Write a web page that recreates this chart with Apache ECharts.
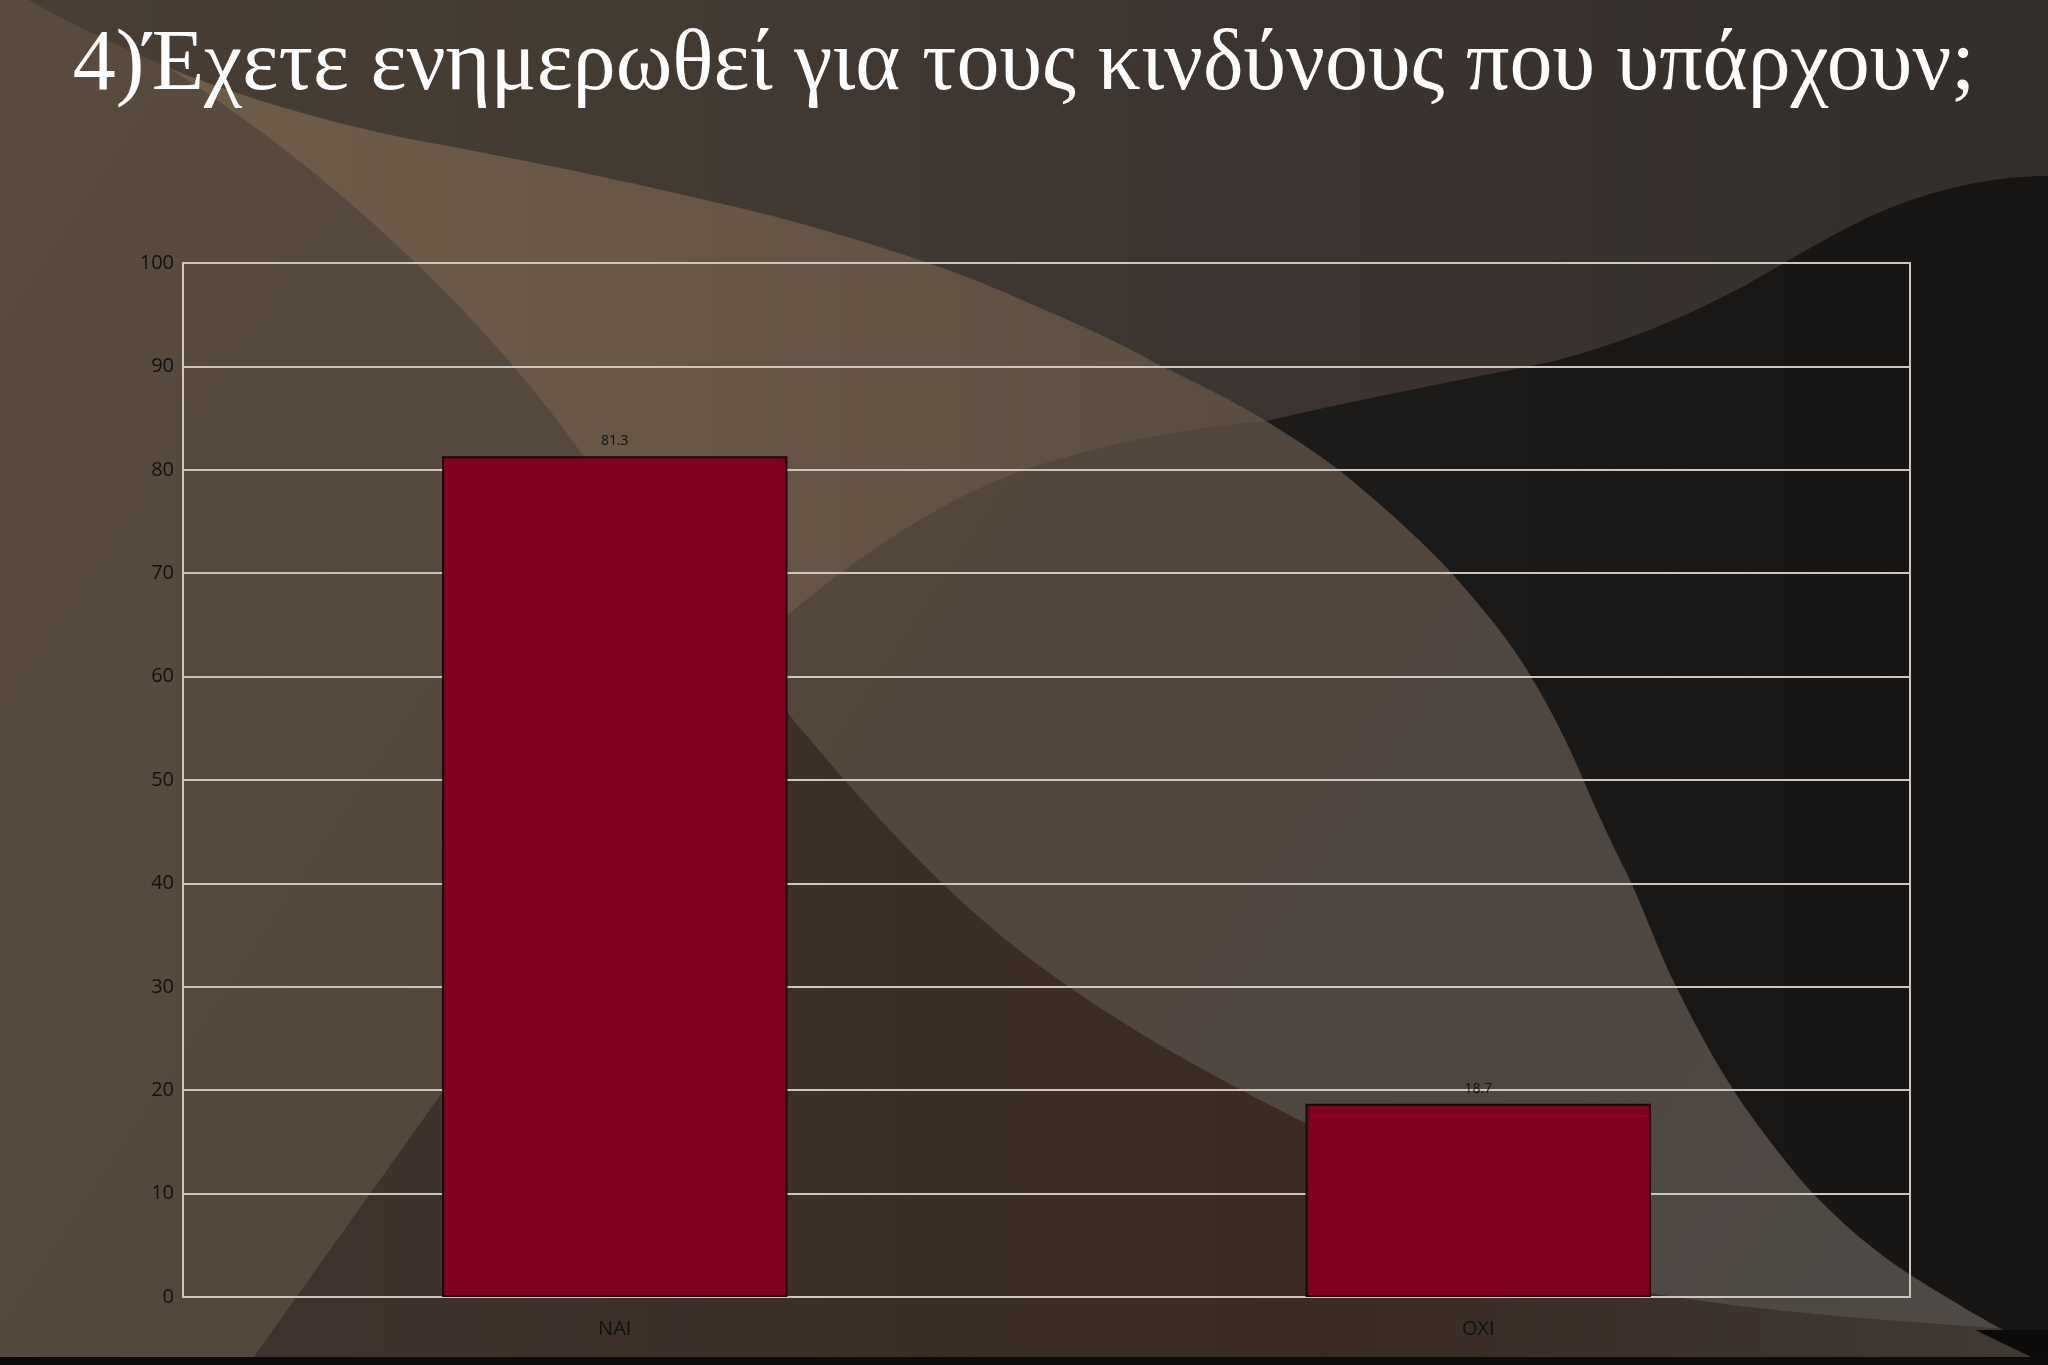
<!DOCTYPE html>
<html>
<head>
<meta charset="utf-8">
<style>
html,body{margin:0;padding:0;background:#3d3530;}
#chart{width:2048px;height:1365px;}
</style>
<script src="https://cdn.jsdelivr.net/npm/echarts@6/dist/echarts.min.js"></script>
</head>
<body>
<div id="chart"></div>
<script>
var titleText = '4)Έχετε ενημερωθεί για τους κινδύνους που υπάρχουν;';
var categories = ['NAI', 'OXI'];
var values = [81.3, 18.7];
var yTicks = [0, 10, 20, 30, 40, 50, 60, 70, 80, 90, 100];

var chart = echarts.init(document.getElementById('chart'));
var LG = echarts.graphic.LinearGradient;

// convert a simple path string (M, L, C, Z) into polygon points for background shapes
function pathToPoints(d) {
  var tokens = d.replace(/([MLCZ])/g, ' $1 ').replace(/,/g, ' ').trim().split(/\s+/);
  var pts = [], i = 0, cmd = null, cur = [0, 0];
  function num() { return parseFloat(tokens[i++]); }
  while (i < tokens.length) {
    var t = tokens[i];
    if (/^[MLCZ]$/.test(t)) { cmd = t; i++; if (cmd === 'Z') continue; }
    if (cmd === 'M' || cmd === 'L') {
      cur = [num(), num()]; pts.push(cur.slice());
    } else if (cmd === 'C') {
      var x1 = num(), y1 = num(), x2 = num(), y2 = num(), x3 = num(), y3 = num();
      var x0 = cur[0], y0 = cur[1];
      for (var s = 1; s <= 24; s++) {
        var u = s / 24, v = 1 - u;
        pts.push([
          v*v*v*x0 + 3*v*v*u*x1 + 3*v*u*u*x2 + u*u*u*x3,
          v*v*v*y0 + 3*v*v*u*y1 + 3*v*u*u*y2 + u*u*u*y3
        ]);
      }
      cur = [x3, y3];
    } else { i++; }
  }
  return pts;
}

function bgShape(d, fill, z) {
  return { type: 'polygon', z: z, silent: true, shape: { points: pathToPoints(d) }, style: { fill: fill } };
}

var swooshEdge = 'C1300,442 1330,462 1350,479 C1390,512 1420,540 1448,569 C1480,605 1510,640 1533,680 C1560,725 1575,760 1592,800 C1610,840 1620,860 1631,882 C1650,925 1660,955 1677,988 C1700,1035 1720,1070 1742,1103 C1765,1135 1785,1162 1808,1188 C1840,1222 1870,1248 1906,1272 C1950,1300 2000,1330 2048,1353';
var swooshEdgeRev = 'C2000,1330 1950,1300 1906,1272 C1870,1248 1840,1222 1808,1188 C1785,1162 1765,1135 1742,1103 C1720,1070 1700,1035 1677,988 C1660,955 1650,925 1631,882 C1620,860 1610,840 1592,800 C1575,760 1560,725 1533,680 C1510,640 1480,605 1448,569 C1420,540 1390,512 1350,479 C1330,462 1300,442 1266,421';
var topEdge = 'C220,90 330,125 431,143 C540,163 660,188 780,218 C880,245 960,272 1024,301 C1080,325 1120,343 1155,363 C1200,385 1235,402 1266,421';

var bgElements = [
  { // base top dark
    type: 'rect', z: -100, silent: true,
    shape: { x: 0, y: 0, width: 2048, height: 1365 },
    style: { fill: new LG(0, 0, 1, 0, [
      { offset: 0, color: '#483e35' }, { offset: 0.3, color: '#433a32' },
      { offset: 0.6, color: '#3c3430' }, { offset: 1, color: '#332e2c' }]) }
  },
  bgShape('M0,0 L29,0 C80,30 130,50 167,67 ' + topEdge + ' ' + swooshEdge + ' L2048,1365 L0,1365 Z',
    new LG(0, 0, 1, 1, [
      { offset: 0, color: '#594b3e' }, { offset: 0.45, color: '#53473c' },
      { offset: 0.75, color: '#4e4641' }, { offset: 1, color: '#4f4a46' }]), -99),
  bgShape('M167,67 ' + topEdge + ' C1180,428 1100,445 1024,470 C940,500 860,555 790,613 L748,655 C700,585 650,530 600,480 C480,300 300,150 167,67 Z',
    new LG(0, 0, 1, 0, [
      { offset: 0, color: '#6d5c49' }, { offset: 0.5, color: '#675646' },
      { offset: 1, color: '#5b4d42' }]), -98),
  bgShape('M248,1365 L441,1094 L748,655 C765,675 778,695 790,716 C860,800 940,890 1024,954 C1110,1020 1200,1070 1305,1123 C1420,1185 1540,1250 1651,1293 C1780,1315 1920,1322 2048,1332 L2048,1365 Z',
    new LG(0, 0, 1, 0, [
      { offset: 0, color: '#3f342d' }, { offset: 0.3, color: '#3b2f28' },
      { offset: 0.6, color: '#3a2a23' }, { offset: 1, color: '#3f3934' }]), -97),
  bgShape('M1266,421 C1380,395 1460,380 1546,363 C1620,345 1690,315 1742,287 C1790,260 1830,235 1873,215 C1930,190 1990,176 2048,176 L2048,1353 ' + swooshEdgeRev + ' Z',
    new LG(0, 0, 1, 0, [
      { offset: 0, color: '#1d1b1a' }, { offset: 1, color: '#161514' }]), -96),
  bgShape('M1975,1330 L2048,1330 L2048,1365 Z', '#0c0b0a', -95),
  { type: 'rect', z: -95, silent: true,
    shape: { x: 0, y: 1357, width: 2048, height: 8 },
    style: { fill: '#0e0c0b' } }
];

var option = {
  backgroundColor: '#3d3530',
  animation: false,
  graphic: { elements: bgElements },
  title: {
    text: titleText,
    left: 'center',
    top: 23,
    padding: 0,
    textStyle: {
      fontFamily: 'Liberation Serif',
      fontSize: 86,
      fontWeight: 'normal',
      color: '#ffffff'
    }
  },
  grid: {
    left: 183, right: 138, top: 263, bottom: 68,
    show: true,
    borderColor: '#cdc6be',
    borderWidth: 2,
    backgroundColor: 'transparent'
  },
  xAxis: {
    type: 'category',
    data: categories,
    axisLine: { show: true, lineStyle: { color: '#cdc6be', width: 2 } },
    axisTick: { show: false },
    axisLabel: { color: '#111111', fontFamily: 'Open Sans', fontSize: 20, margin: 22 },
    splitLine: { show: false }
  },
  yAxis: {
    type: 'value',
    min: yTicks[0],
    max: yTicks[yTicks.length - 1],
    interval: yTicks[1] - yTicks[0],
    axisLine: { show: true, lineStyle: { color: '#cdc6be', width: 2 } },
    axisTick: { show: false },
    axisLabel: { color: '#111111', fontFamily: 'Open Sans', fontSize: 20, margin: 9 },
    splitLine: { show: true, lineStyle: { color: '#cdc6be', width: 2 } }
  },
  series: [{
    type: 'bar',
    data: values,
    barWidth: '40%',
    itemStyle: { color: '#800020', borderColor: '#1a0808', borderWidth: 2 },
    label: {
      show: true, position: 'top', distance: 8,
      color: '#111111', fontFamily: 'Open Sans', fontSize: 14
    }
  }]
};
chart.setOption(option);
</script>
</body>
</html>
